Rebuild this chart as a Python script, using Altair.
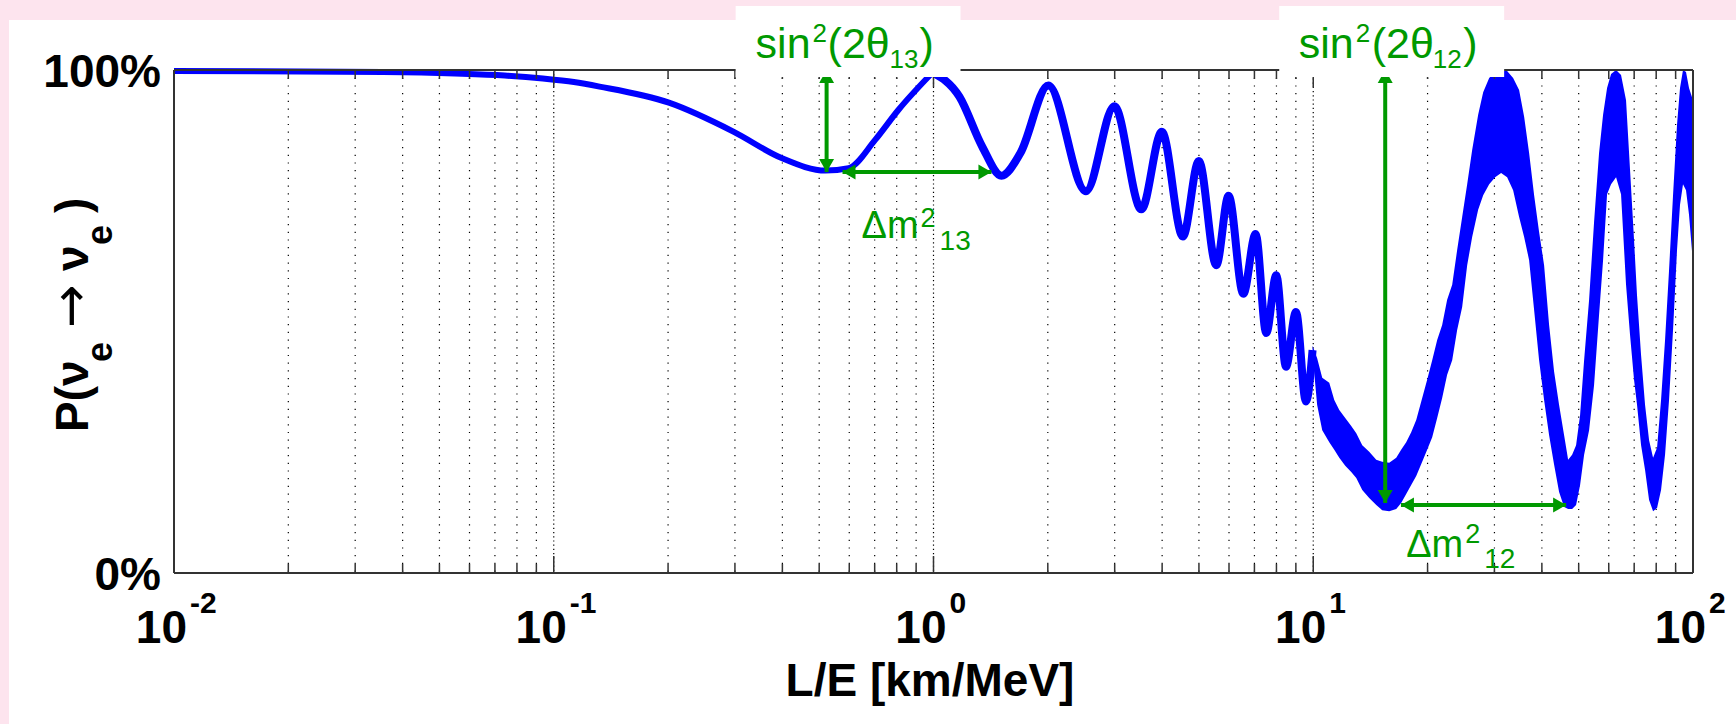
import altair as alt
import pandas as pd

# ------------------------------------------------------------------ data
# thin part of the survival-probability curve (L/E in km/MeV, P as fraction)
line_le = [0.01, 0.0215, 0.0355, 0.0549, 0.0743, 0.0936, 0.113, 0.132, 0.201, 0.298,
           0.398, 0.520, 0.598, 0.702, 0.807, 0.994, 1.17, 1.343, 1.51, 1.694,
           2.007, 2.52, 2.995, 3.527, 3.993, 4.536, 4.997, 5.555, 5.985, 6.544,
           7.051, 7.521, 7.991, 8.476, 9.005, 9.568, 9.958]
line_p = [0.998, 0.997, 0.996, 0.993, 0.989, 0.983, 0.976, 0.967, 0.935, 0.877,
          0.825, 0.800, 0.805, 0.861, 0.920, 0.995, 0.947, 0.848, 0.790, 0.835,
          0.969, 0.759, 0.928, 0.723, 0.877, 0.669, 0.819, 0.612, 0.750, 0.555,
          0.674, 0.477, 0.592, 0.410, 0.519, 0.341, 0.443]

# fast-oscillation band (upper / lower envelope) for large L/E
band_le = [9.958, 10.24, 10.56, 11.02, 11.36, 11.71, 12.14, 12.59, 12.98, 13.46,
           14.04, 14.65, 15.19, 15.85, 16.54, 17.04, 17.57, 18.11, 18.67, 19.36,
           19.95, 20.57, 21.20, 21.85, 22.52, 23.22, 23.93, 24.67, 25.43, 26.21,
           27.18, 28.02, 29.06, 30.13, 31.24, 32.40, 33.60, 34.84, 35.92, 37.02,
           38.16, 39.33, 40.54, 41.79, 43.08, 44.40, 45.77, 46.90, 48.05, 49.22,
           50.43, 51.67, 53.26, 54.89, 56.57, 57.97, 59.39, 60.85, 62.72, 64.64,
           66.63, 68.27, 69.94, 71.23, 72.99, 74.78, 76.62, 78.50, 80.42, 82.39,
           84.41, 86.48, 88.60, 90.77, 92.43, 94.12, 95.85, 97.61, 100.0]
band_hi = [0.452, 0.427, 0.388, 0.378, 0.344, 0.324, 0.308, 0.292, 0.278, 0.254,
           0.241, 0.225, 0.221, 0.219, 0.229, 0.245, 0.260, 0.280, 0.304, 0.348,
           0.384, 0.423, 0.463, 0.493, 0.543, 0.573, 0.642, 0.708, 0.773, 0.841,
           0.911, 0.956, 0.984, 0.996, 1.000, 0.998, 0.984, 0.960, 0.907, 0.835,
           0.751, 0.678, 0.612, 0.493, 0.400, 0.334, 0.274, 0.225, 0.235, 0.254,
           0.314, 0.423, 0.543, 0.698, 0.835, 0.911, 0.964, 0.992, 1.000, 0.990,
           0.940, 0.801, 0.662, 0.551, 0.433, 0.334, 0.264, 0.229, 0.249, 0.344,
           0.463, 0.602, 0.751, 0.891, 0.964, 1.000, 0.996, 0.964, 0.940]
band_lo = [0.434, 0.334, 0.284, 0.260, 0.245, 0.229, 0.213, 0.201, 0.189, 0.165,
           0.149, 0.135, 0.125, 0.123, 0.127, 0.139, 0.157, 0.175, 0.193, 0.221,
           0.245, 0.270, 0.308, 0.348, 0.394, 0.423, 0.483, 0.529, 0.612, 0.668,
           0.722, 0.751, 0.773, 0.787, 0.795, 0.787, 0.761, 0.708, 0.668, 0.622,
           0.523, 0.423, 0.344, 0.274, 0.215, 0.161, 0.131, 0.127, 0.127, 0.135,
           0.175, 0.235, 0.284, 0.374, 0.513, 0.622, 0.753, 0.773, 0.787, 0.753,
           0.573, 0.473, 0.384, 0.334, 0.254, 0.205, 0.145, 0.123, 0.129, 0.165,
           0.235, 0.344, 0.483, 0.642, 0.732, 0.773, 0.761, 0.712, 0.616]

# axis ticks / labels
grid_minor = [0.02, 0.03, 0.04, 0.05, 0.06, 0.07, 0.08, 0.09,
              0.2, 0.3, 0.4, 0.5, 0.6, 0.7, 0.8, 0.9,
              2, 3, 4, 5, 6, 7, 8, 9,
              20, 30, 40, 50, 60, 70, 80, 90]
grid_major = [0.1, 1, 10]
decades = [0.01, 0.1, 1, 10, 100]
exponents = ["-2", "-1", "0", "1", "2"]
y_ticks = [0, 1]
y_tick_labels = ["0%", "100%"]

# annotations (data units)
arrow_v_le = [0.523, 15.47]
arrow_v_top = [1.0, 1.0]
arrow_v_bot = [0.797, 0.139]
arrow_h_le1 = [0.576, 17.02]
arrow_h_le2 = [1.421, 46.33]
arrow_h_p = [0.797, 0.135]
box_le1 = [0.3013, 8.136]
box_le2 = [1.178, 31.82]
box_p_top = [1.127, 1.127]
box_p_bot = [0.986, 0.986]
label_le = [0.340, 9.158, 0.6465, 17.57]
label_p = [1.024, 1.024, 0.666, 0.032]

# ------------------------------------------------------------------ style
FONT = "Liberation Sans"
BLUE = "#0000ff"
GREEN = "#009900"
FRAME = "#333333"
PINK = "#fde4ee"
W, H = 1519, 503
SPLIT = 15  # the line is drawn a little thicker after the first maximum

label_pieces = [
    [("sin", 0, 0, 43), ("2", 57, -16, 26), ("(2θ", 72, 0, 43), ("13", 134, 10, 26), (")", 164, 0, 43)],
    [("sin", 0, 0, 43), ("2", 57, -16, 26), ("(2θ", 73, 0, 43), ("12", 134, 10, 26), (")", 164.5, 0, 43)],
    [("Δm", 0, 0, 38), ("2", 59, -11, 27), ("13", 78, 12, 28)],
    [("Δm", 0, 0, 38), ("2", 59, -14, 27), ("12", 78, 11, 28)],
]
ytitle_pieces = [("P(ν", 0, 0, 46, "bold", FONT), ("e", 70, 24, 36, "bold", FONT),
                 ("→", 104, 0, 52, "normal", "DejaVu Sans"), ("ν", 161, 0, 46, "bold", FONT),
                 ("e", 187, 24, 36, "bold", FONT), (")", 219, 0, 46, "bold", FONT)]

xs = alt.Scale(type="log", domain=[0.01, 100], nice=False)
ys = alt.Scale(domain=[0, 1], nice=False, zero=False)


def X(f):
    return alt.X(f, scale=xs, axis=None)


def Y(f):
    return alt.Y(f, scale=ys, axis=None)


one = pd.DataFrame({"a": [0]})
line_a = pd.DataFrame({"le": line_le[:SPLIT + 1], "p": line_p[:SPLIT + 1]})
line_b = pd.DataFrame({"le": line_le[SPLIT:], "p": line_p[SPLIT:]})
band_df = pd.DataFrame({"le": band_le, "hi": band_hi, "lo": band_lo})
gmin_df = pd.DataFrame({"v": grid_minor})
gmaj_df = pd.DataFrame({"v": grid_major})
dec_df = pd.DataFrame({"v": decades, "e": exponents})
yt_df = pd.DataFrame({"t": y_ticks, "lab": y_tick_labels})
av_df = pd.DataFrame({"le": arrow_v_le, "top": arrow_v_top, "bot": arrow_v_bot})
ah_df = pd.DataFrame({"le1": arrow_h_le1, "le2": arrow_h_le2, "p": arrow_h_p})
box_df = pd.DataFrame({"le1": box_le1, "le2": box_le2, "p1": box_p_top, "p2": box_p_bot})

layers = []
# white panel
layers.append(alt.Chart(one).mark_rect(color="white").encode(
    x=alt.value(-165), x2=alt.value(W + 43), y=alt.value(-50), y2=alt.value(H + 151)))
# grid
layers.append(alt.Chart(gmin_df).mark_rule(color="black", strokeWidth=1.2, strokeDash=[1.2, 6.5]).encode(x=X("v:Q")))
layers.append(alt.Chart(gmaj_df).mark_rule(color="black", strokeWidth=1.2, strokeDash=[1.2, 3]).encode(x=X("v:Q")))
# curve
layers.append(alt.Chart(band_df).mark_area(color=BLUE, opacity=1, interpolate="linear").encode(
    x=X("le:Q"), y=Y("hi:Q"), y2="lo:Q"))
layers.append(alt.Chart(line_a).mark_line(color=BLUE, strokeWidth=6, interpolate="monotone",
                                          strokeJoin="round").encode(x=X("le:Q"), y=Y("p:Q")))
layers.append(alt.Chart(line_b).mark_line(color=BLUE, strokeWidth=8, interpolate="monotone",
                                          strokeJoin="round").encode(x=X("le:Q"), y=Y("p:Q")))
# frame
layers.append(alt.Chart(one).mark_rule(color=FRAME, strokeWidth=2).encode(x=alt.value(0), x2=alt.value(W), y=alt.value(0)))
layers.append(alt.Chart(one).mark_rule(color=FRAME, strokeWidth=2).encode(x=alt.value(0), x2=alt.value(W), y=alt.value(H)))
layers.append(alt.Chart(one).mark_rule(color=FRAME, strokeWidth=2).encode(x=alt.value(0), y=alt.value(0), y2=alt.value(H)))
layers.append(alt.Chart(one).mark_rule(color=FRAME, strokeWidth=2).encode(x=alt.value(W), y=alt.value(0), y2=alt.value(H)))
# ticks (inward)
for df, ln in ((gmin_df, 9), (gmaj_df, 17)):
    layers.append(alt.Chart(df).mark_rule(color=FRAME, strokeWidth=1.5).encode(
        x=X("v:Q"), y=alt.value(H), y2=alt.value(H - ln)))
    layers.append(alt.Chart(df).mark_rule(color=FRAME, strokeWidth=1.5).encode(
        x=X("v:Q"), y=alt.value(0), y2=alt.value(ln)))
# arrows
layers.append(alt.Chart(av_df).mark_rule(color=GREEN, strokeWidth=4).encode(x=X("le:Q"), y=Y("top:Q"), y2="bot:Q"))
layers.append(alt.Chart(av_df).mark_point(shape="triangle-down", filled=True, color=GREEN, size=225,
                                          opacity=1, yOffset=-6.5).encode(x=X("le:Q"), y=Y("bot:Q")))
layers.append(alt.Chart(av_df).mark_point(shape="triangle-up", filled=True, color=GREEN, size=225,
                                          opacity=1, yOffset=6.5).encode(x=X("le:Q"), y=Y("top:Q")))
layers.append(alt.Chart(ah_df).mark_rule(color=GREEN, strokeWidth=4).encode(x=X("le1:Q"), x2="le2:Q", y=Y("p:Q")))
layers.append(alt.Chart(ah_df).mark_point(shape="triangle-left", filled=True, color=GREEN, size=225,
                                          opacity=1, xOffset=6.5).encode(x=X("le1:Q"), y=Y("p:Q")))
layers.append(alt.Chart(ah_df).mark_point(shape="triangle-right", filled=True, color=GREEN, size=225,
                                          opacity=1, xOffset=-6.5).encode(x=X("le2:Q"), y=Y("p:Q")))
# white label boxes
layers.append(alt.Chart(box_df).mark_rect(color="white").encode(x=X("le1:Q"), x2="le2:Q", y=Y("p1:Q"), y2="p2:Q"))
# green labels
for le, p, pieces in zip(label_le, label_p, label_pieces):
    df = pd.DataFrame({"le": [le], "p": [p]})
    for txt, dx, dy, size in pieces:
        layers.append(alt.Chart(df).mark_text(text=txt, dx=dx, dy=dy, fontSize=size, font=FONT,
                                              align="left", baseline="alphabetic", color=GREEN).encode(
            x=X("le:Q"), y=Y("p:Q")))
# y tick labels
layers.append(alt.Chart(yt_df).mark_text(align="right", baseline="alphabetic", dx=-13, dy=17,
                                         fontSize=46, fontWeight="bold", font=FONT, color="black").encode(
    x=alt.value(0), y=Y("t:Q"), text="lab:N"))
# x tick labels 10^n
layers.append(alt.Chart(dec_df).mark_text(text="10", align="right", baseline="alphabetic", dx=13,
                                          fontSize=46, fontWeight="bold", font=FONT, color="black").encode(
    x=X("v:Q"), y=alt.value(H + 70)))
layers.append(alt.Chart(dec_df).mark_text(align="left", baseline="alphabetic", dx=16,
                                          fontSize=30, fontWeight="bold", font=FONT, color="black").encode(
    x=X("v:Q"), y=alt.value(H + 40), text="e:N"))
# axis titles
layers.append(alt.Chart(one).mark_text(text="L/E [km/MeV]", align="center", baseline="alphabetic",
                                       fontSize=46, fontWeight="bold", font=FONT, color="black").encode(
    x=alt.value(756), y=alt.value(626)))
for txt, dx, dy, size, wt, fnt in ytitle_pieces:
    layers.append(alt.Chart(one).mark_text(text=txt, angle=270, align="left", baseline="alphabetic",
                                           dx=dx, dy=dy, fontSize=size, fontWeight=wt, font=fnt,
                                           color="black").encode(x=alt.value(-86), y=alt.value(362)))

chart = alt.layer(*layers).properties(
    width=W, height=H, background=PINK,
    padding={"left": 174, "top": 70, "right": 43, "bottom": 151},
    autosize=alt.AutoSizeParams(type="none"),
).configure_view(stroke=None)

chart.save("out.html", embed_options={"renderer": "svg", "actions": False})
